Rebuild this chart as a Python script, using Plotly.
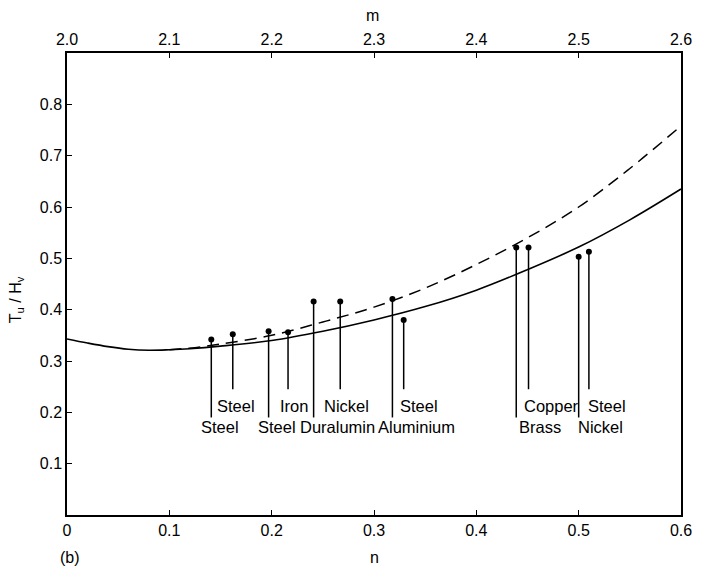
import plotly.graph_objects as go

# ---- data ----
n_solid = [0.0, 0.02, 0.04, 0.06, 0.08, 0.10, 0.12, 0.15, 0.20, 0.25, 0.30, 0.35, 0.40, 0.45, 0.50, 0.55, 0.60]
v_solid = [0.343, 0.335, 0.328, 0.323, 0.321, 0.322, 0.324, 0.329, 0.340, 0.358, 0.380, 0.406, 0.438, 0.478, 0.522, 0.575, 0.635]

n_dash = [0.10, 0.125, 0.15, 0.20, 0.25, 0.30, 0.35, 0.40, 0.45, 0.50, 0.55, 0.60]
v_dash = [0.322, 0.326, 0.333, 0.350, 0.376, 0.405, 0.442, 0.488, 0.540, 0.600, 0.675, 0.758]

mat_n = [0.141, 0.162, 0.197, 0.216, 0.241, 0.267, 0.318, 0.329, 0.439, 0.451, 0.500, 0.510]
mat_v = [0.342, 0.352, 0.358, 0.356, 0.416, 0.416, 0.421, 0.380, 0.521, 0.521, 0.503, 0.513]
mat_label = ["Steel", "Steel", "Steel", "Iron", "Duralumin", "Nickel",
             "Aluminium", "Steel", "Brass", "Copper", "Nickel", "Steel"]
mat_row = [1, 0, 1, 0, 1, 0, 1, 0, 1, 0, 1, 0]  # 0 = upper label row, 1 = lower

x_ticks = [0, 0.1, 0.2, 0.3, 0.4, 0.5, 0.6]
x_ticktext = ["0", "0.1", "0.2", "0.3", "0.4", "0.5", "0.6"]
m_ticks = [2.0, 2.1, 2.2, 2.3, 2.4, 2.5, 2.6]
m_ticktext = ["2.0", "2.1", "2.2", "2.3", "2.4", "2.5", "2.6"]
y_ticks = [0.1, 0.2, 0.3, 0.4, 0.5, 0.6, 0.7, 0.8]
y_ticktext = ["0.1", "0.2", "0.3", "0.4", "0.5", "0.6", "0.7", "0.8"]

# ---- style ----
FONT = "Liberation Sans"
row_line_end = [0.245, 0.19]
row_text_y = [0.213, 0.172]
label_xshift = [-12, -18, -13, -10, -16, -18, -16, -6, 1, -7, -3, -3]

fig = go.Figure()

fig.add_trace(go.Scatter(x=n_solid, y=v_solid, mode="lines",
                         line=dict(color="black", width=1.6, shape="spline"),
                         showlegend=False, hoverinfo="skip"))
fig.add_trace(go.Scatter(x=n_dash, y=v_dash, mode="lines",
                         line=dict(color="black", width=1.5, dash="12px,7px", shape="spline"),
                         showlegend=False, hoverinfo="skip"))

lx, ly = [], []
for n, v, r in zip(mat_n, mat_v, mat_row):
    lx += [n, n, None]
    ly += [v, row_line_end[r], None]
fig.add_trace(go.Scatter(x=lx, y=ly, mode="lines",
                         line=dict(color="black", width=1.5),
                         showlegend=False, hoverinfo="skip"))
fig.add_trace(go.Scatter(x=mat_n, y=mat_v, mode="markers",
                         marker=dict(color="black", size=6),
                         showlegend=False, hoverinfo="skip"))
# invisible trace on the top (m) axis
fig.add_trace(go.Scatter(x=m_ticks, y=[None] * len(m_ticks), xaxis="x2",
                         mode="markers", showlegend=False, hoverinfo="skip"))

annotations = []
for n, lab, r, xs in zip(mat_n, mat_label, mat_row, label_xshift):
    annotations.append(dict(x=n, y=row_text_y[r], xref="x", yref="y", text=lab,
                            showarrow=False, xanchor="left", yanchor="middle",
                            xshift=xs, font=dict(family=FONT, size=16.5, color="black")))

annotations += [
    dict(x=0.497, y=1.082, xref="paper", yref="paper", text="m", showarrow=False,
         xanchor="center", yanchor="middle",
         font=dict(family=FONT, size=16, color="black")),
    dict(x=0.5, y=-0.093, xref="paper", yref="paper", text="n", showarrow=False,
         xanchor="center", yanchor="middle",
         font=dict(family=FONT, size=16, color="black")),
    dict(x=-0.015, y=-0.093, xref="paper", yref="paper", text="(b)", showarrow=False,
         xanchor="left", yanchor="middle", font=dict(family=FONT, size=16, color="black")),
    dict(x=-0.083, y=0.465, xref="paper", yref="paper", text="T<sub>u</sub> / H<sub>v</sub>",
         showarrow=False, textangle=-90, xanchor="center", yanchor="middle",
         font=dict(family=FONT, size=16, color="black")),
]

axis_common = dict(showgrid=False, zeroline=False, showline=True, linecolor="black",
                   linewidth=1.5, ticks="inside", ticklen=5, tickwidth=1.2,
                   tickcolor="black", tickfont=dict(family=FONT, size=16, color="black"))

fig.update_layout(
    width=703, height=568,
    margin=dict(l=67, r=22, t=53, b=53),
    paper_bgcolor="white", plot_bgcolor="white",
    xaxis=dict(range=[0, 0.6], tickvals=x_ticks, ticktext=x_ticktext, **axis_common),
    xaxis2=dict(range=[2.0, 2.6], tickvals=m_ticks, ticktext=m_ticktext, overlaying="x",
                side="top", **axis_common),
    yaxis=dict(range=[0, 0.9], tickvals=y_ticks, ticktext=y_ticktext, mirror=True,
               **axis_common),
    annotations=annotations,
    showlegend=False,
)

fig.write_html("out.html")
